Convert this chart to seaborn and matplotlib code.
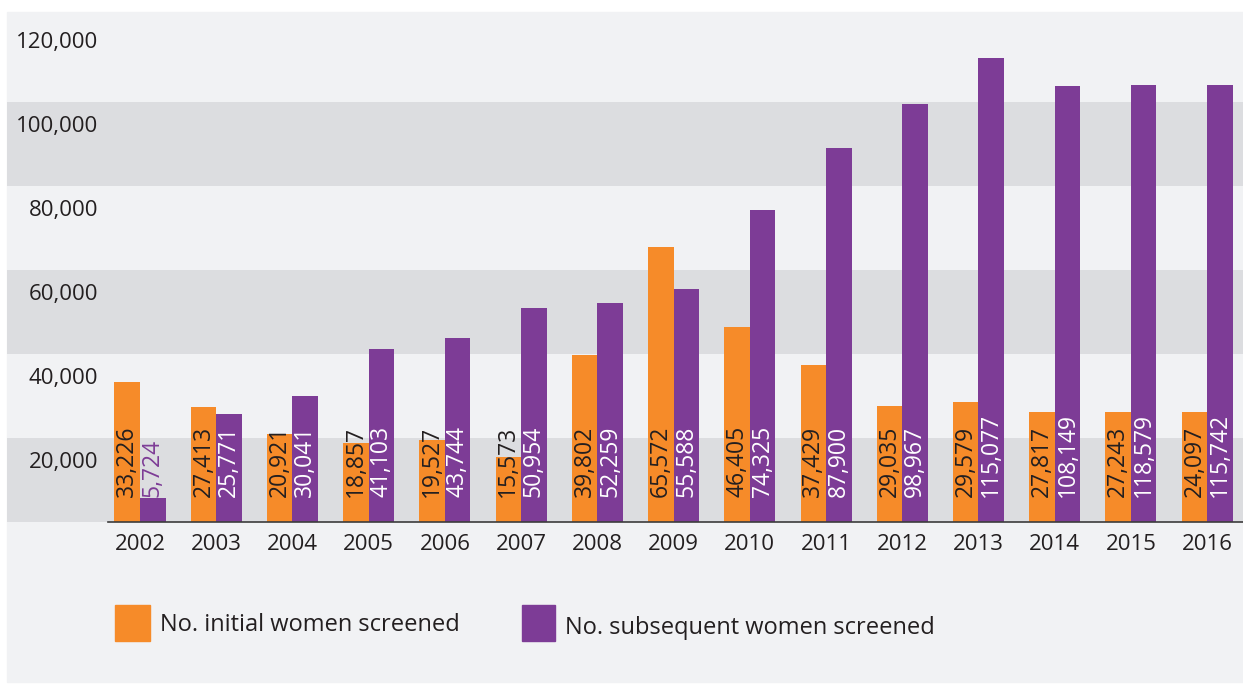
import matplotlib
matplotlib.use("Agg")
import pandas as pd
import matplotlib.pyplot as plt
import matplotlib.transforms as mtransforms
from matplotlib.patches import Rectangle
import seaborn as sns

# data (bar heights as drawn, labels as printed)
years = ["2002", "2003", "2004", "2005", "2006", "2007", "2008", "2009",
         "2010", "2011", "2012", "2013", "2014", "2015", "2016"]
initial_vals = [33226, 27413, 20921, 18857, 19527, 15573, 39802, 65572,
                46405, 37429, 27700, 28500, 26200, 26200, 26200]
subsequent_vals = [5724, 25771, 30041, 41103, 43744, 50954, 52259, 55588,
                   74325, 89000, 99500, 110500, 103800, 104000, 104000]
initial_labels = ["33,226", "27,413", "20,921", "18,857", "19,527", "15,573", "39,802",
                  "65,572", "46,405", "37,429", "29,035", "29,579", "27,817", "27,243", "24,097"]
subsequent_labels = ["5,724", "25,771", "30,041", "41,103", "43,744", "50,954", "52,259",
                     "55,588", "74,325", "87,900", "98,967", "115,077", "108,149", "118,579", "115,742"]
series_names = ["No. initial women screened", "No. subsequent women screened"]
ytick_vals = [20000, 40000, 60000, 80000, 100000, 120000]
ytick_labels = ["20,000", "40,000", "60,000", "80,000", "100,000", "120,000"]

orange = "#f68b29"
purple = "#7d3c96"
light = "#f1f2f4"
dark = "#dcdde0"
txt = "#231f20"

plt.rcParams["font.family"] = ["Open Sans", "DejaVu Sans"]

df = pd.DataFrame({
    "year": years + years,
    "value": initial_vals + subsequent_vals,
    "group": [series_names[0]] * len(years) + [series_names[1]] * len(years),
})

W, H = 1243, 684
fig = plt.figure(figsize=(W / 100, H / 100), dpi=100)
fig.patches.append(Rectangle((7 / W, 2 / H), 1 - 7 / W, (H - 14) / H,
                             transform=fig.transFigure, color=light, zorder=-5))

ax = fig.add_axes([108 / W, 162 / H, 1135 / W, 510 / H])
ax.set_facecolor(light)

sns.barplot(data=df, x="year", y="value", hue="group", palette=[orange, purple],
            width=0.67, saturation=1, errorbar=None, legend=False, ax=ax)

# value labels inside the bars
for cont, labs, which in zip(ax.containers, [initial_labels, subsequent_labels], [0, 1]):
    for bar, lab in zip(cont, labs):
        x = bar.get_x() + bar.get_width() / 2
        if which == 0:
            col = txt
        else:
            col = purple if bar.get_height() < 17000 else "white"
        ax.annotate(lab, (x, 0), xytext=(0, 18), textcoords="offset points",
                    rotation=90, ha="center", va="bottom", fontsize=16.5, color=col)

# alternating bands, extending to the left of the axis
for lo in (0, 40000, 80000):
    span = ax.axhspan(lo, lo + 20000, xmin=-101 / 1135, xmax=1, color=dark, lw=0, zorder=0)
    span.set_clip_on(False)
ax.set_axisbelow(True)

ax.set_xlim(-0.42, 14.47)
ax.set_ylim(0, 121429)
ax.set_xlabel("")
ax.set_ylabel("")
ax.set_yticks(ytick_vals)
ax.set_yticklabels(ytick_labels)
ax.tick_params(axis="y", length=0, pad=7, labelsize=16, labelcolor=txt)
ax.tick_params(axis="x", length=0, pad=9, labelsize=16, labelcolor=txt)
# the y labels sit a little below their gridlines in the original
off = mtransforms.ScaledTranslation(0, -22 / 100, fig.dpi_scale_trans)
for lab in ax.get_yticklabels():
    lab.set_transform(lab.get_transform() + off)

for s in ["top", "right", "left"]:
    ax.spines[s].set_visible(False)
ax.spines["bottom"].set_color("#3c3c3c")
ax.spines["bottom"].set_linewidth(1.2)

# legend drawn by hand
fig.patches.append(Rectangle((115 / W, (H - 641) / H), 35 / W, 36 / H,
                             transform=fig.transFigure, color=orange))
fig.text(160 / W, 1 - 625 / H, series_names[0], va="center", fontsize=17, color=txt)
fig.patches.append(Rectangle((522 / W, (H - 641) / H), 33 / W, 36 / H,
                             transform=fig.transFigure, color=purple))
fig.text(565 / W, 1 - 628 / H, series_names[1], va="center", fontsize=17, color=txt)

fig.savefig("out.png", dpi=100)
